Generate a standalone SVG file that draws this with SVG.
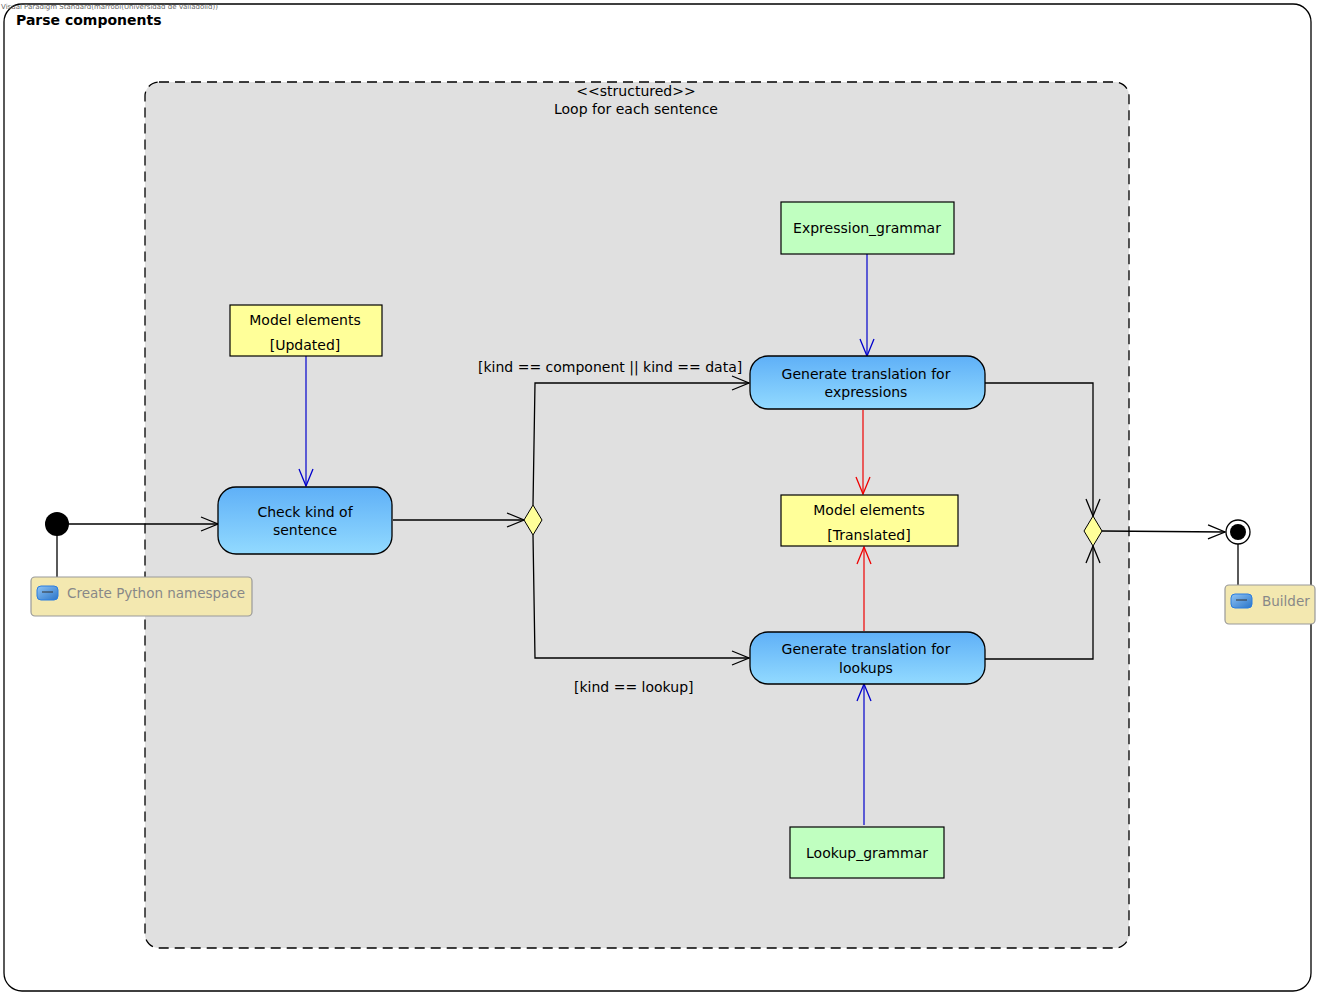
<svg xmlns="http://www.w3.org/2000/svg" width="1320" height="996" viewBox="0 0 1320 996">
<defs>
<linearGradient id="g" x1="0" y1="0" x2="0" y2="1"><stop offset="0" stop-color="#5fb0f7"/><stop offset="1" stop-color="#92daff"/></linearGradient>
<linearGradient id="ic" x1="0" y1="0" x2="1" y2="1"><stop offset="0" stop-color="#8fc4f5"/><stop offset="1" stop-color="#2a75c8"/></linearGradient>
<marker id="oa" markerWidth="20" markerHeight="20" refX="18" refY="8" orient="auto" markerUnits="userSpaceOnUse"><path d="M1,1 L18,8 L1,15" fill="none" stroke="context-stroke" stroke-width="1.3"/></marker>
</defs>
<style>
text{font-family:"DejaVu Sans","Liberation Sans",sans-serif;font-size:14px;fill:#000}
.t{text-anchor:middle}
.act{fill:url(#g);stroke:#000;stroke-width:1.3}
.obj{fill:#ffff99;stroke:#000;stroke-width:1.2}
.grn{fill:#c0ffc0;stroke:#000;stroke-width:1.2}
.note{fill:#f3e8b0;stroke:#999;stroke-width:1.2}
.nt{fill:#888;font-size:13.5px}
.c{fill:none;stroke:#000;stroke-width:1.3}
.b{fill:none;stroke:#0000cc;stroke-width:1.2}
.r{fill:none;stroke:#e00;stroke-width:1.2}
</style>
<g id="frame"><rect x="4" y="4" width="1307" height="987" rx="18" fill="#fff" stroke="#000" stroke-width="1.3"/>
<text x="16" y="25" style="font-weight:bold;font-size:14px">Parse components</text></g>
<text x="1" y="9" style="font-size:7px;fill:#666">Visual Paradigm Standard(marrobl(Universidad de Valladolid))</text>
<g id="loop"><rect x="145" y="82" width="984" height="866" rx="14" fill="#e0e0e0" stroke="#000" stroke-width="1.3" stroke-dasharray="10,6"/>
<text x="636" y="96" class="t">&lt;&lt;structured&gt;&gt;</text>
<text x="636" y="114" class="t">Loop for each sentence</text></g>
<g id="connectors">
<path class="c" d="M57,524 L218,524" marker-end="url(#oa)"/>
<path class="c" d="M57,524 L57,577"/>
<path class="c" d="M393,520 L524,520" marker-end="url(#oa)"/>
<path class="c" d="M533,505 L535,383 L749,383" marker-end="url(#oa)"/>
<path class="c" d="M533,535 L535,658 L749,658" marker-end="url(#oa)"/>
<path class="c" d="M985,383 L1093,383 L1093,516" marker-end="url(#oa)"/>
<path class="c" d="M985,659 L1093,659 L1093,546" marker-end="url(#oa)"/>
<path class="c" d="M1102,531 L1225,532" marker-end="url(#oa)"/>
<path class="c" d="M1238,544 L1238,585"/>
<path class="b" d="M306,356 L306,486" marker-end="url(#oa)"/>
<path class="b" d="M867,254 L867,356" marker-end="url(#oa)"/>
<path class="b" d="M864,825 L864,684" marker-end="url(#oa)"/>
<path class="r" d="M863,410 L863,494" marker-end="url(#oa)"/>
<path class="r" d="M864,631 L864,547" marker-end="url(#oa)"/>
<text x="478" y="372">[kind == component || kind == data]</text>
<text x="574" y="692">[kind == lookup]</text>
</g>
<g id="initial"><circle cx="57" cy="524" r="12" fill="#000"/></g>
<g id="note1"><rect class="note" x="31" y="577" width="221" height="39" rx="4"/><rect x="37" y="586" width="21" height="14" rx="4" fill="url(#ic)" stroke="#2a7de0"/><line x1="42" y1="592" x2="53" y2="592" stroke="#333"/><text class="nt" x="67" y="598">Create Python namespace</text></g>
<g id="check"><rect class="act" x="218" y="487" width="174" height="67" rx="18"/><text class="t" x="305" y="517">Check kind of</text><text class="t" x="305" y="535">sentence</text></g>
<g id="me1"><rect class="obj" x="230" y="305" width="152" height="51"/><text class="t" x="305" y="325">Model elements</text><text class="t" x="305" y="350">[Updated]</text></g>
<g id="dec"><path d="M533,505 L542,520 L533,535 L524,520 Z" fill="#ffff99" stroke="#000"/></g>
<g id="expg"><rect class="grn" x="781" y="202" width="173" height="52"/><text class="t" x="867" y="233">Expression_grammar</text></g>
<g id="genexp"><rect class="act" x="750" y="356" width="235" height="53" rx="18"/><text class="t" x="866" y="379">Generate translation for</text><text class="t" x="866" y="397">expressions</text></g>
<g id="me2"><rect class="obj" x="781" y="495" width="177" height="51"/><text class="t" x="869" y="515">Model elements</text><text class="t" x="869" y="540">[Translated]</text></g>
<g id="genlook"><rect class="act" x="750" y="632" width="235" height="52" rx="18"/><text class="t" x="866" y="654">Generate translation for</text><text class="t" x="866" y="673">lookups</text></g>
<g id="lookg"><rect class="grn" x="790" y="827" width="154" height="51"/><text class="t" x="867" y="858">Lookup_grammar</text></g>
<g id="merge"><path d="M1093,516 L1102,531 L1093,546 L1084,531 Z" fill="#ffff99" stroke="#000"/></g>
<g id="final"><circle cx="1238" cy="532" r="12" fill="#fff" stroke="#000" stroke-width="1.3"/><circle cx="1238" cy="532" r="8" fill="#000"/></g>
<g id="note2"><rect class="note" x="1225" y="585" width="90" height="39" rx="4"/><rect x="1231" y="594" width="21" height="14" rx="4" fill="url(#ic)" stroke="#2a7de0"/><line x1="1236" y1="600" x2="1247" y2="600" stroke="#333"/><text class="nt" x="1262" y="606">Builder</text></g>
</svg>
